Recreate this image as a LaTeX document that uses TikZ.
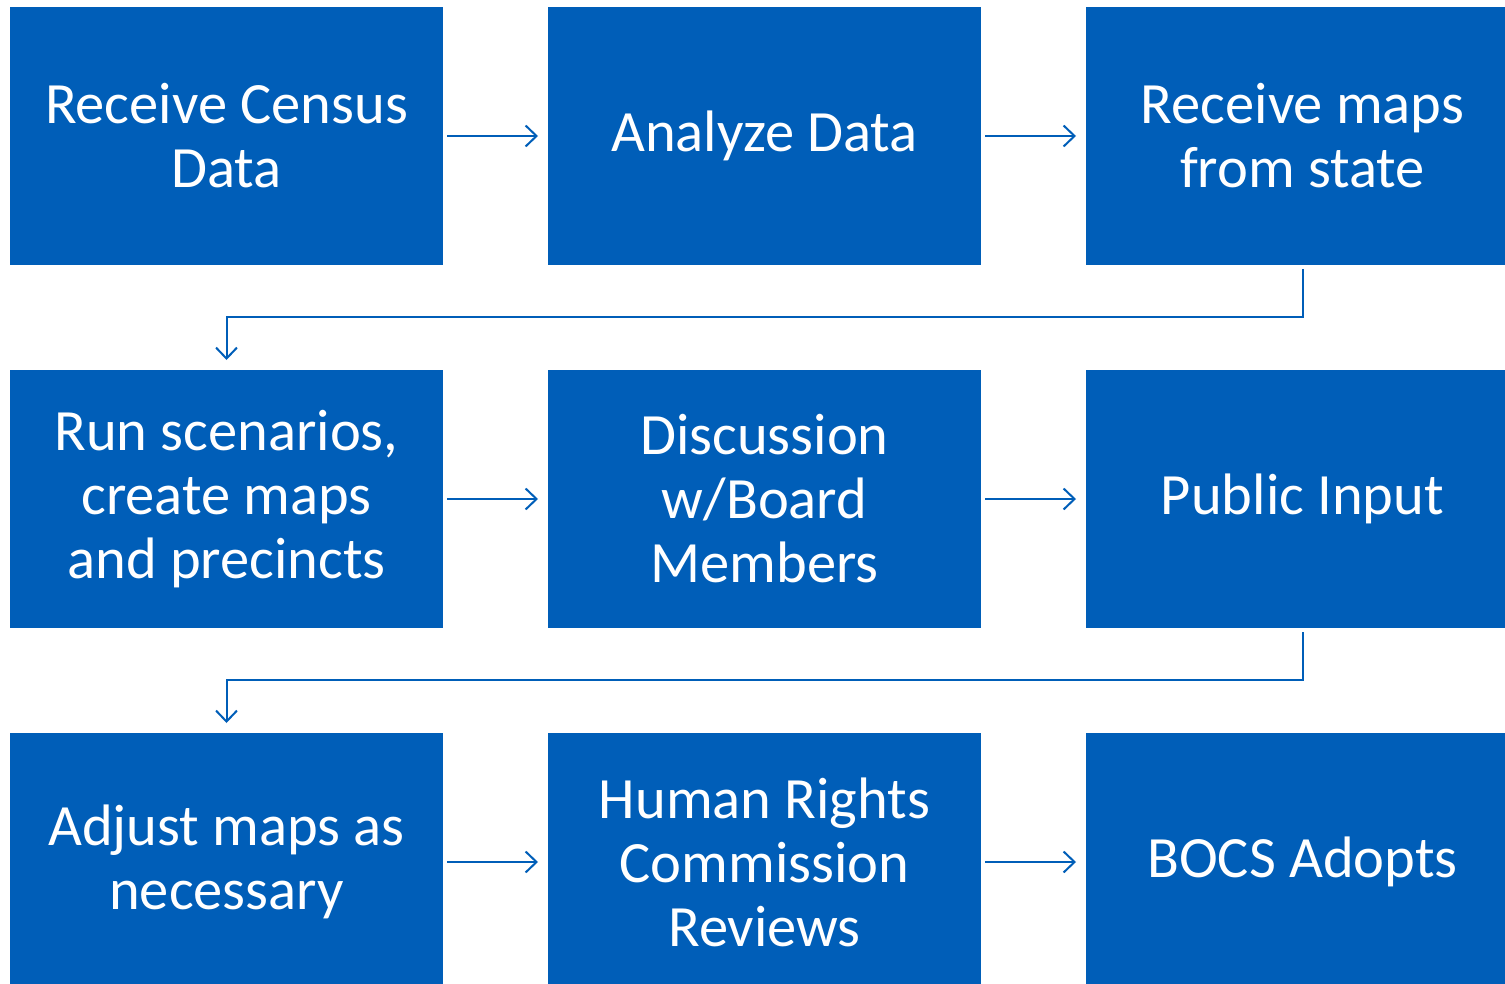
\documentclass[tikz,border=0pt]{standalone}
\usepackage{fontspec}
\setmainfont{Carlito}
\usepackage{xcolor}
\usepackage{tikz}
\usetikzlibrary{positioning}
\usetikzlibrary{arrows.meta}
\definecolor{stepblue}{RGB}{0,94,184}

\begin{document}
\begin{tikzpicture}[x=1pt, y=1pt]

                \def\d{105pt}

                % Box and arrow looks
                \tikzset{
                    stepbox/.style={fill=stepblue, text=white,
                        minimum width=433pt, minimum height=258pt,
                        inner sep=0pt, outer sep=0pt, align=center,
                        font=\fontsize{58.5}{64}\selectfont},
                    flow/.style={draw=stepblue, line width=2pt,
                        -{Straight Barb[length=11pt, width=21pt, line width=2pt]},
                        shorten <=4pt, shorten >=10pt}
                }

                \useasboundingbox (0,0) rectangle (1505,-984);
                \clip (0,0) rectangle (1505,-984);

                % Three rows of steps
                \begin{scope}
                    \node[stepbox] (census) at (226.5,-136)
                    {Receive Census\\Data};
                    \node[stepbox] (analyze) [right=\d of census]
                    {Analyze Data};
                    \node[stepbox] (state) [right=\d of analyze]
                    {Receive maps\\from state};

                    \node[stepbox] (scenarios) [below=\d of census]
                    {Run scenarios,\\create maps\\and precincts};
                    \node[stepbox] (board) [right=\d of scenarios]
                    {Discussion\\w/Board\\Members};
                    \node[stepbox] (public) [right=\d of board]
                    {Public Input};

                    \node[stepbox] (adjust) [below=\d of scenarios]
                    {Adjust maps as\\necessary};
                    \node[stepbox] (rights) [right=\d of adjust]
                    {Human Rights\\Commission\\Reviews};
                    \node[stepbox] (adopts) [right=\d of rights]
                    {BOCS Adopts};
                \end{scope}

                \begin{scope}
                    \draw[flow] (census) -- (analyze);
                    \draw[flow] (analyze) -- (state);
                    \draw[flow] (state.south) -- ++(0,-52) -| (scenarios.north);
                    \draw[flow] (scenarios) -- (board);
                    \draw[flow] (board) -- (public);
                    \draw[flow] (public.south) -- ++(0,-52) -| (adjust.north);
                    \draw[flow] (adjust) -- (rights);
                    \draw[flow] (rights) -- (adopts);
                \end{scope}

\end{tikzpicture}
\end{document}
